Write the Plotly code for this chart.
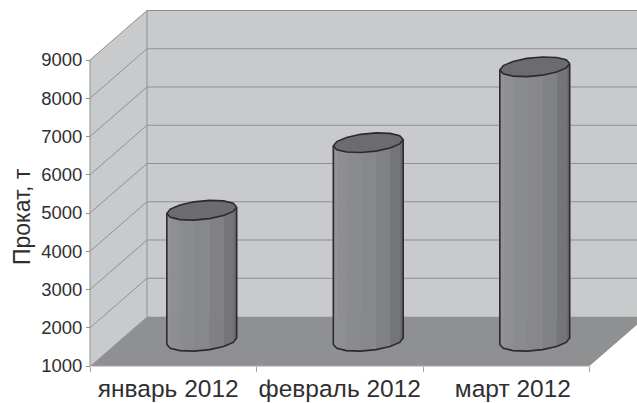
import numpy as np
import plotly.graph_objects as go

categories = ["январь 2012", "февраль 2012", "март 2012"]
label_positions = [0.47, 1.5, 2.54]
values = [4425, 6190, 8176]
y_ticks = [1000, 2000, 3000, 4000, 5000, 6000, 7000, 8000, 9000]
y_title = "Прокат, т"

W, H = 637, 403
X0, PX_CAT = 90.0, 166.5      # pixel of category edge 0, pixels per category
Y0, PX_VAL = 366.0, 0.03825   # pixel of value 1000, pixels per unit
DX = 57 / PX_CAT              # chart depth in x units
DY = 49.5 / PX_VAL            # chart depth in value units
YMIN, YMAX = y_ticks[0], y_ticks[-1]
xr = [(0 - X0) / PX_CAT, (W - X0) / PX_CAT]
yr = [1000 - (H - Y0) / PX_VAL, 1000 + Y0 / PX_VAL]

WALL, FLOOR, LINE = "#c9cacc", "#8f9092", "#8f9092"
EDGE, TOP = "#2b2b2d", "#6b6c6f"
TXT = "#2f2f31"
STRIPS = ["#929395", "#8e8f91", "#8a8b8d", "#87888a", "#808183", "#747578", "#6a6b6e"]

fig = go.Figure()


def poly(xs, ys, fill=None, line=None, width=1.0):
    fig.add_trace(go.Scatter(
        x=xs, y=ys, mode="lines" if line else "none",
        fill="toself" if fill else None, fillcolor=fill,
        line=dict(color=line, width=width) if line else None,
        hoverinfo="skip", showlegend=False))


XMAX = len(categories)
# walls and floor
poly([0, DX, DX, 0, 0], [YMIN, YMIN + DY, YMAX + DY, YMAX, YMIN], fill=WALL)
poly([DX, XMAX + DX, XMAX + DX, DX, DX],
     [YMIN + DY, YMIN + DY, YMAX + DY, YMAX + DY, YMIN + DY], fill=WALL)
poly([0, DX, XMAX + DX, XMAX, 0], [YMIN, YMIN + DY, YMIN + DY, YMIN, YMIN], fill=FLOOR)

# gridlines on side and back walls
for v in y_ticks[1:]:
    poly([0, DX, XMAX + DX], [v, v + DY, v + DY], line=LINE, width=1)
poly([DX, DX], [YMIN + DY, YMAX + DY], line=LINE, width=1)
poly([0, 0], [YMIN, YMAX], line=LINE, width=1)
poly([0, XMAX], [YMIN, YMIN], line="#a2a3a5", width=1)

# cylinders: a 14-sided prism standing half way into the chart's depth
R = 33 / PX_CAT
D = 0.2
SIDES = 14
t0 = np.arctan2(D * DX * PX_CAT, 33)
t = t0 - np.arange(SIDES + 1) * 2 * np.pi / SIDES


def ring(i, level):
    cx = i + 0.5 + DX / 2
    cy = level + DY / 2
    return cx + R * np.cos(t) + D * DX * np.sin(t), cy + D * DY * np.sin(t)


for i, v in enumerate(values):
    xt, yt = ring(i, v)
    xb, yb = ring(i, YMIN)
    nf = SIDES // 2
    for k in range(nf):
        xs = [xb[k], xb[k + 1], xt[k + 1], xt[k], xb[k]]
        ys = [yb[k], yb[k + 1], yt[k + 1], yt[k], yb[k]]
        shade = STRIPS[nf - 1 - k]
        poly(xs, ys, fill=shade, line=shade, width=0.6)
    poly(list(xt), list(yt), fill=TOP)
    sil_x = [xt[0]] + list(xb[:nf + 1]) + [xt[nf]]
    sil_y = [yt[0]] + list(yb[:nf + 1]) + [yt[nf]]
    poly(sil_x, sil_y, line=EDGE, width=1.6)
    poly(list(xt), list(yt), line=EDGE, width=1.6)

fig.update_layout(
    width=W, height=H, margin=dict(l=0, r=0, t=0, b=0, autoexpand=False),
    paper_bgcolor="white", plot_bgcolor="white", showlegend=False,
    hovermode=False,
    font=dict(family="Liberation Sans, Arial, sans-serif", color=TXT, size=18),
    xaxis=dict(
        range=xr, domain=[0, 1], anchor="free", position=(H - Y0) / H,
        automargin=False,
        showgrid=False, zeroline=False, showline=False,
        tickmode="array", tickvals=label_positions, ticktext=categories,
        ticks="outside", ticklen=1, tickcolor="rgba(0,0,0,0)",
        tickfont=dict(size=24.5), tickangle=0,
        minor=dict(tickmode="array", tickvals=[0, 1, 2, 3], ticks="outside",
                   ticklen=5, tickcolor="#a2a3a5", tickwidth=1, showgrid=False),
    ),
    yaxis=dict(
        range=yr, domain=[0, 1], anchor="free", position=X0 / W,
        automargin=False,
        showgrid=False, zeroline=False, showline=False,
        tickmode="array", tickvals=y_ticks, ticks="outside", ticklen=4,
        tickcolor="#8f9092", tickwidth=1, tickfont=dict(size=18.5),
    ),
    annotations=[dict(text=y_title, textangle=-90, showarrow=False,
                      xref="paper", yref="paper", x=22 / W, y=1 - 217 / H,
                      xanchor="center", yanchor="middle", font=dict(size=23))],
)
fig.write_html("out.html", config=dict(displayModeBar=False),
               post_script="document.body.style.margin='0';")
